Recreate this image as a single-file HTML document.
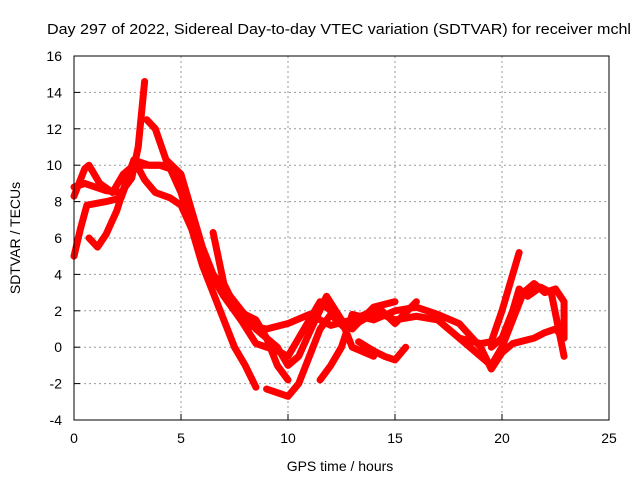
<!DOCTYPE html>
<html><head><meta charset="utf-8"><style>
body{margin:0;background:#fff}
svg{display:block;font-family:"Liberation Sans",sans-serif;font-size:14px}
</style></head><body>
<svg id="chart" width="640" height="480">
<rect width="640" height="480" fill="#fff"/>
<text x="47" y="34" textLength="584" lengthAdjust="spacingAndGlyphs" style="font-size:15px">Day 297 of 2022, Sidereal Day-to-day VTEC variation (SDTVAR) for receiver mchl</text>
<g id="grid"></g>
<g id="axes"></g>
<g id="series"></g>
<rect x="74" y="56" width="535" height="364" fill="none" stroke="#000" stroke-width="1"/>
<text x="340" y="471" text-anchor="middle">GPS time / hours</text>
<text transform="translate(20,238) rotate(-90)" text-anchor="middle">SDTVAR / TECUs</text>
</svg>
<script>
const xTicks=[0,5,10,15,20,25];
const yTicks=[-4,-2,0,2,4,6,8,10,12,14,16];
const sA_x=[0,0.5,0.7,1.2,1.8,2.3,2.8,3.3,4,4.5,5,5.5,6,7,8,9,10,11,12,13,14,15,16,17,18,19,19.5,20,20.8];
const sA_y=[8.3,9.8,10,9,8.5,9.5,10,10,10,9.8,8.5,6.5,5,3,1.2,1,1.3,1.8,1.2,1.5,2,1.5,1.7,1.5,0.5,0.2,0.3,2,5.2];
const sB_x=[0,0.5,1.5,2.2,2.7,3,3.3];
const sB_y=[8.8,9,8.6,8.5,9.3,11,14.6];
const sB2_x=[3.4,3.8,4.3,5,5.5,6,6.5,7.5,8.5,9.5,10,10.5,11,11.8,12.5,13,14];
const sB2_y=[12.5,12,10.3,9.5,7.5,5.5,4,2.5,1,0,-1,-0.5,0.8,2.8,1.5,0,-0.5];
const sC_x=[0,0.3,0.6,1.5,2.2,2.7,3,3.5,4.2,4.7,5,5.5,6,6.5,7,7.8,8.5,9.5,10,10.5,11,11.5,12,13,14,15];
const sC_y=[5,6.5,7.8,8,8.2,9.8,10.2,10,10,9.7,9,7,5,3.8,2.8,1.5,0.2,-0.2,-0.5,0.5,1.5,2.5,2,1,2.2,2.5];
const sD_x=[0.7,1.1,1.5,2,2.4,2.8,3.3,3.8,4.5,5,5.5,6,6.5,7,7.5,8,8.5];
const sD_y=[6,5.5,6.2,7.5,9,10.3,9.2,8.5,8.2,7.8,6.5,4.5,3,1.5,0,-1,-2.2];
const sE_x=[6.5,7,7.5,8,8.5,9,9.5,10];
const sE_y=[6.3,3.5,2.3,1.8,1.5,0.5,-1,-1.8];
const sE2_x=[9,9.5,10,10.5,11,11.5,12,12.7,13.5,14.3,15,16];
const sE2_y=[-2.3,-2.5,-2.7,-2,-0.5,1,1.8,1,1.5,2.1,1.3,2.5];
const sF_x=[11.5,12,12.5,13,14,15,16,17,18,19,19.5,20,20.5,21.5,22,22.5,22.9];
const sF_y=[-1.8,-1,0,1.8,1.5,2,2.2,1.8,1.3,0,-1.2,-0.3,0.2,0.5,0.8,1,0.5];
const sG_x=[13.3,14,14.5,15,15.5];
const sG_y=[0.3,-0.2,-0.5,-0.7,0];
const sH_x=[18,19,19.5,20,20.5,21,21.5,22,22.5,22.9,22.9];
const sH_y=[0.5,-0.5,-1,0,1.5,3,3.5,3,3.2,2.5,0.5];
const sI_x=[19.5,20,20.5,20.8,21.2,21.8,22.3,22.9];
const sI_y=[0,0.5,2,3.2,2.8,3.3,3,-0.5];
const allSeries=[[sA_x,sA_y],[sB_x,sB_y],[sB2_x,sB2_y],[sC_x,sC_y],[sD_x,sD_y],[sE_x,sE_y],[sE2_x,sE2_y],[sF_x,sF_y],[sG_x,sG_y],[sH_x,sH_y],[sI_x,sI_y]];
const NS='http://www.w3.org/2000/svg';
const X=v=>74+v*535/25, Y=v=>420-(v+4)*364/20;
const grid=document.getElementById('grid'),axes=document.getElementById('axes'),ser=document.getElementById('series');
function mk(t,a,p){const e=document.createElementNS(NS,t);for(const k in a)e.setAttribute(k,a[k]);p.appendChild(e);return e;}
xTicks.forEach(t=>{
  if(t>0&&t<25){const g=mk('line',{x1:X(t),x2:X(t),y1:56,y2:420,stroke:'#999','stroke-dasharray':'2,3'},grid);
  
  }
  const k=mk('line',{x1:X(t),x2:X(t),y1:420,y2:414,stroke:'#000'},axes);
  
  
  const l=mk('text',{x:X(t),y:443,'text-anchor':'middle'},axes);l.textContent=t;
  
  
});
yTicks.forEach(t=>{
  if(t>-4&&t<16){const g=mk('line',{x1:74,x2:609,y1:Y(t),y2:Y(t),stroke:'#999','stroke-dasharray':'2,3'},grid);
  
  }
  const k=mk('line',{x1:74,x2:80,y1:Y(t),y2:Y(t),stroke:'#000'},axes);
  
  
  const l=mk('text',{x:62,y:Y(t)+5,'text-anchor':'end'},axes);l.textContent=t;
  
  
});
allSeries.forEach(([xs,ys])=>{
  const pts=xs.map((x,i)=>X(x)+','+Y(ys[i])).join(' ');
  const p=mk('polyline',{points:pts,fill:'none',stroke:'#f00','stroke-width':7,'stroke-linejoin':'round','stroke-linecap':'round'},ser);
  
  
});
</script>
</body></html>
